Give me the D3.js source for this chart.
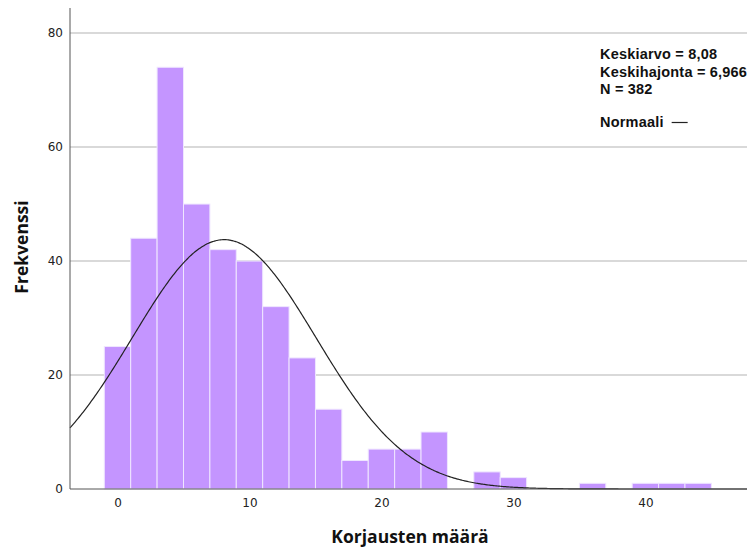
<!DOCTYPE html>
<html>
<head>
<meta charset="utf-8">
<script src="https://cdn.jsdelivr.net/npm/d3@7"></script>
<style>
  html, body { margin: 0; padding: 0; background: #fff; }
  svg { display: block; }
</style>
</head>
<body>
<svg id="chart" width="752" height="552"></svg>
<script>
// Histogram of correction counts (bin width 2, bins centred on even values)
const binCenters = [0, 2, 4, 6, 8, 10, 12, 14, 16, 18, 20, 22, 24, 26, 28, 30, 32, 34, 36, 38, 40, 42, 44];
const counts     = [25, 44, 74, 50, 42, 40, 32, 23, 14, 5, 7, 7, 10, 0, 3, 2, 0, 0, 1, 0, 1, 1, 1];
const binWidth = 2;

const xTicks = [0, 10, 20, 30, 40];
const yTicks = [0, 20, 40, 60, 80];

const meanValue = 8.08;
const sdValue = 6.966;
const nValue = 382;

const legendLines = ["Keskiarvo = 8,08", "Keskihajonta = 6,966", "N = 382"];
const normalLabel = "Normaali";
const xTitle = "Korjausten määrä";
const yTitle = "Frekvenssi";

const svg = d3.select("#chart");

const plot = { left: 70, right: 747, top: 8, bottom: 489 };

const x = d3.scaleLinear().domain([-3.6, 47.7]).range([plot.left, plot.right]);
const y = d3.scaleLinear().domain([0, 84.4]).range([plot.bottom, plot.top]);

// Horizontal grid lines
svg.append("g")
  .selectAll("line")
  .data(yTicks.filter(d => d > 0))
  .join("line")
  .attr("x1", plot.left).attr("x2", plot.right)
  .attr("y1", d => y(d)).attr("y2", d => y(d))
  .attr("stroke", "#d9d9d9")
  .attr("stroke-width", 2);

// Bars
const bins = binCenters.map((c, i) => ({ c, n: counts[i] })).filter(d => d.n > 0);
svg.append("g")
  .selectAll("rect")
  .data(bins)
  .join("rect")
  .attr("x", d => x(d.c - binWidth / 2))
  .attr("width", d => x(d.c + binWidth / 2) - x(d.c - binWidth / 2))
  .attr("y", d => y(d.n))
  .attr("height", d => y(0) - y(d.n))
  .attr("fill", "#c495ff")
  .attr("stroke", "#efe6ff")
  .attr("stroke-width", 1);

// Normal curve scaled to counts
const pdfScale = nValue * binWidth / (sdValue * Math.sqrt(2 * Math.PI));
const curvePts = d3.range(x.domain()[0], x.domain()[1] + 0.001, 0.1)
  .map(v => [v, pdfScale * Math.exp(-0.5 * Math.pow((v - meanValue) / sdValue, 2))]);
svg.append("path")
  .datum(curvePts)
  .attr("fill", "none")
  .attr("stroke", "#222")
  .attr("stroke-width", 1.2)
  .attr("d", d3.line().x(d => x(d[0])).y(d => y(d[1])).curve(d3.curveMonotoneX));

// Axes
const yAxis = d3.axisLeft(y).tickValues(yTicks).tickSize(0).tickPadding(7);
const gy = svg.append("g").attr("transform", `translate(${plot.left},0)`).call(yAxis);
gy.select(".domain").attr("stroke", "#555").attr("d", `M0,${plot.top}V${plot.bottom}`);
gy.selectAll("text").attr("font-family", "DejaVu Sans").attr("font-size", 12).attr("fill", "#222");

const xAxis = d3.axisBottom(x).tickValues(xTicks).tickSize(0).tickPadding(9);
const gx = svg.append("g").attr("transform", `translate(0,${plot.bottom})`).call(xAxis);
gx.select(".domain").attr("stroke", "#555").attr("d", `M${plot.left},0H${plot.right}`);
gx.selectAll("text").attr("font-family", "DejaVu Sans").attr("font-size", 12).attr("fill", "#222");

// Axis titles
svg.append("text")
  .attr("x", 410).attr("y", 543)
  .attr("text-anchor", "middle")
  .attr("font-family", "Open Sans").attr("font-weight", 700).attr("font-size", 17.5)
  .attr("fill", "#111")
  .text(xTitle);

svg.append("text")
  .attr("transform", "translate(28,247) rotate(-90)")
  .attr("text-anchor", "middle")
  .attr("font-family", "Open Sans").attr("font-weight", 700).attr("font-size", 17.5)
  .attr("fill", "#111")
  .text(yTitle);

// Statistics legend
const legend = svg.append("g").attr("font-family", "Liberation Sans").attr("font-weight", 700)
  .attr("font-size", 14.5).attr("letter-spacing", 0.2).attr("fill", "#111");
legend.selectAll("text.stat")
  .data(legendLines)
  .join("text")
  .attr("class", "stat")
  .attr("x", 600)
  .attr("y", (d, i) => 59 + i * 17.5)
  .text(d => d);
const normText = legend.append("text").attr("x", 600).attr("y", 127).text(normalLabel);
const nb = normText.node().getBBox();
legend.append("line")
  .attr("x1", nb.x + nb.width + 8).attr("x2", nb.x + nb.width + 24)
  .attr("y1", 122.5).attr("y2", 122.5)
  .attr("stroke", "#222").attr("stroke-width", 1.2);
</script>
</body>
</html>
